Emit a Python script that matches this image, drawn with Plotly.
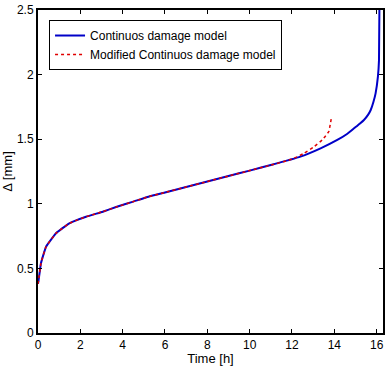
import plotly.graph_objects as go

# Continuos damage model
t_cdm = [0, 0.03, 0.14, 0.38, 0.85, 1.48, 2.27, 3.06, 3.69, 4.5, 5.22, 6.0, 7.0, 8.0, 9.0, 10.0,
         11.0, 12.4, 13.35, 14.14, 14.6, 14.93, 15.2, 15.4, 15.6, 15.72, 15.85, 15.95, 16.06, 16.11, 16.13]
d_cdm = [0.38, 0.41, 0.54, 0.668, 0.772, 0.849, 0.90, 0.939, 0.975, 1.017, 1.055, 1.088, 1.13, 1.173,
         1.215, 1.257, 1.30, 1.365, 1.429, 1.494, 1.54, 1.584, 1.62, 1.649, 1.69, 1.726, 1.79, 1.855,
         1.984, 2.11, 2.5]

# Modified Continuos damage model
t_mod = [0, 0.03, 0.14, 0.38, 0.85, 1.48, 2.27, 3.06, 3.69, 4.5, 5.22, 6.0, 7.0, 8.0, 9.0, 10.0,
         11.0, 12.0, 12.56, 13.03, 13.43, 13.74, 13.86]
d_mod = [0.38, 0.41, 0.54, 0.668, 0.772, 0.849, 0.90, 0.939, 0.975, 1.017, 1.055, 1.088, 1.13, 1.173,
         1.215, 1.257, 1.30, 1.345, 1.39, 1.44, 1.494, 1.56, 1.665]

x_ticks = [0, 2, 4, 6, 8, 10, 12, 14, 16]
y_ticks = [0, 0.5, 1, 1.5, 2, 2.5]
y_tick_text = ["0", "0.5", "1", "1.5", "2", "2.5"]

FONT = "Liberation Sans, Arial"

fig = go.Figure()
fig.add_trace(go.Scatter(x=t_cdm, y=d_cdm, mode="lines", name="Continuos damage model",
                         line=dict(color="#0000c8", width=2, shape="spline", smoothing=0.3)))
fig.add_trace(go.Scatter(x=t_mod, y=d_mod, mode="lines", name="Modified Continuos damage model",
                         line=dict(color="#e00000", width=1.5, dash="dot", shape="spline", smoothing=0.3)))

axis_common = dict(showline=True, linecolor="black", linewidth=2, mirror="ticks",
                   ticks="inside", ticklen=4, tickcolor="black", tickwidth=1,
                   showgrid=False, zeroline=False, automargin=False,
                   tickfont=dict(family=FONT, size=12, color="black"))

fig.update_layout(
    width=389, height=366,
    margin=dict(l=38, r=6, t=10, b=33),
    paper_bgcolor="white", plot_bgcolor="white",
    showlegend=True,
    legend=dict(x=0.032, y=0.969, xanchor="left", yanchor="top",
                bordercolor="black", borderwidth=1, bgcolor="white",
                font=dict(family=FONT, size=12, color="black"),
                tracegroupgap=0, itemwidth=30),
    xaxis=dict(range=[0, 16.3], tickvals=x_ticks, ticklabelstandoff=0,
               title=dict(text="Time [h]", standoff=1,
                          font=dict(family=FONT, size=13, color="black")),
               **axis_common),
    yaxis=dict(range=[0, 2.5], tickvals=y_ticks, ticktext=y_tick_text,
               title=dict(text="Δ [mm]", standoff=4,
                          font=dict(family=FONT, size=13, color="black")),
               **axis_common),
)

fig.write_html("out.html")
